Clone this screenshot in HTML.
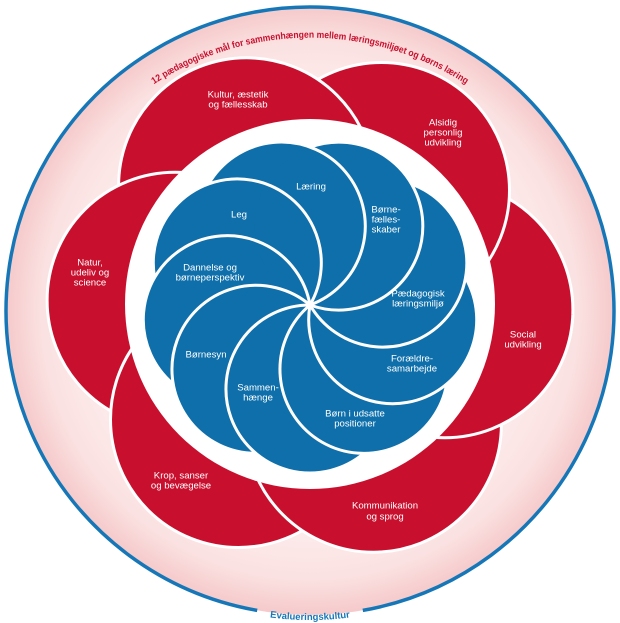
<!DOCTYPE html>
<html><head><meta charset="utf-8"><style>
html,body{margin:0;padding:0;background:#fff;overflow:hidden;}
svg{display:block;}
text{font-family:"Liberation Sans",sans-serif;}
</style></head><body>
<svg width="620" height="623" viewBox="0 0 620 623" xmlns="http://www.w3.org/2000/svg">
<defs>
<radialGradient id="pg" cx="310" cy="311" r="306" gradientUnits="userSpaceOnUse">
<stop offset="0" stop-color="#fff5f5"/>
<stop offset="0.7" stop-color="#fdecec"/>
<stop offset="0.88" stop-color="#fbe1e1"/>
<stop offset="1" stop-color="#f5c8c9"/>
</radialGradient>
<clipPath id="cr"><polygon points="310,305 910,326 910,900 310,900"/></clipPath>
<path id="tp" d="M 100,130 A 285 285 0 0 1 520,130"/>
<path id="bp" d="M 204.3,601.4 A 309 309 0 0 0 415.7,601.4"/>
</defs>
<rect width="620" height="623" fill="#fff"/>
<circle cx="310" cy="311" r="304" fill="url(#pg)"/>
<path d="M 362.8,610.4 A 304 304 0 1 0 257.2,610.4" fill="none" stroke="#1677b8" stroke-width="3.5"/>

<g fill="#c8102e" stroke="#fff" stroke-width="3">
<circle cx="444.9" cy="309.7" r="128"/>
<circle cx="381.5" cy="190.5" r="128"/>
<circle cx="246.6" cy="185.8" r="128"/>
<circle cx="175.1" cy="300.3" r="128"/>
<circle cx="238.5" cy="419.5" r="128"/>
<circle cx="373.4" cy="424.2" r="128"/>
<circle cx="444.9" cy="309.7" r="128" clip-path="url(#cr)"/>
</g>

<circle cx="310" cy="304" r="185" fill="#fff"/>

<g fill="#0e6fab">
<circle cx="281.3" cy="226.1" r="84"/>
<circle cx="237.3" cy="263.0" r="84"/>
<circle cx="227.3" cy="319.6" r="84"/>
<circle cx="256.0" cy="369.3" r="84"/>
<circle cx="310.0" cy="389.0" r="84"/>
<circle cx="364.0" cy="369.3" r="84"/>
<circle cx="392.7" cy="319.6" r="84"/>
<circle cx="382.7" cy="263.0" r="84"/>
<circle cx="338.7" cy="226.1" r="84"/>
</g>
<g fill="none" stroke="#fff" stroke-width="3">
<path d="M310,305 A84,84 0 1 0 208.5,184.1"/>
<path d="M310,305 A84,84 0 1 0 154.6,277.6"/>
<path d="M310,305 A84,84 0 1 0 173.3,384.0"/>
<path d="M310,305 A84,84 0 1 0 256.0,453.3"/>
<path d="M310,305 A84,84 0 1 0 364.0,453.3"/>
<path d="M310,305 A84,84 0 1 0 446.7,383.9"/>
<path d="M310,305 A84,84 0 1 0 465.4,277.6"/>
<path d="M310,305 A84,84 0 1 0 411.4,184.1"/>
<path d="M310,305 A84,84 0 1 0 310.0,147.2"/>
</g>

<g fill="#fff" font-size="9.6" text-anchor="middle">
<text x="238" y="97.5">Kultur, æstetik</text><text x="238" y="107.5">og fællesskab</text>
<text x="443" y="125.5">Alsidig</text><text x="443" y="135.5">personlig</text><text x="443" y="145.5">udvikling</text>
<text x="90" y="265.5">Natur,</text><text x="90" y="275.5">udeliv og</text><text x="90" y="285.5">science</text>
<text x="523" y="337.5">Social</text><text x="523" y="347.5">udvikling</text>
<text x="385" y="508.5">Kommunikation</text><text x="385" y="519.5">og sprog</text>
<text x="181" y="478.5">Krop, sanser</text><text x="181" y="488.5">og bevægelse</text>

<text x="311" y="189.5">Læring</text>
<text x="239" y="217.5">Leg</text>
<text x="386" y="212.5">Børne-</text><text x="386" y="222.5">fælles-</text><text x="386" y="232.5">skaber</text>
<text x="210" y="270.5">Dannelse og</text><text x="210" y="280.5">børneperspektiv</text>
<text x="418" y="296.5">Pædagogisk</text><text x="418" y="306.5">læringsmiljø</text>
<text x="412" y="361.5">Forældre-</text><text x="412" y="371.5">samarbejde</text>
<text x="206" y="357.5">Børnesyn</text>
<text x="258" y="390.5">Sammen-</text><text x="258" y="400.5">hænge</text>
<text x="355" y="416.5">Børn i udsatte</text><text x="355" y="426.5">positioner</text>
</g>

<text font-size="9.5" fill="#c8102e" font-weight="bold"><textPath href="#tp" startOffset="50%" text-anchor="middle" textLength="330" lengthAdjust="spacingAndGlyphs">12 pædagogiske mål for sammenhængen mellem læringsmiljøet og børns læring</textPath></text>
<text font-size="9.5" fill="#1677b8" font-weight="bold"><textPath href="#bp" startOffset="50%" text-anchor="middle">Evalueringskultur</textPath></text>
</svg>
</body></html>
